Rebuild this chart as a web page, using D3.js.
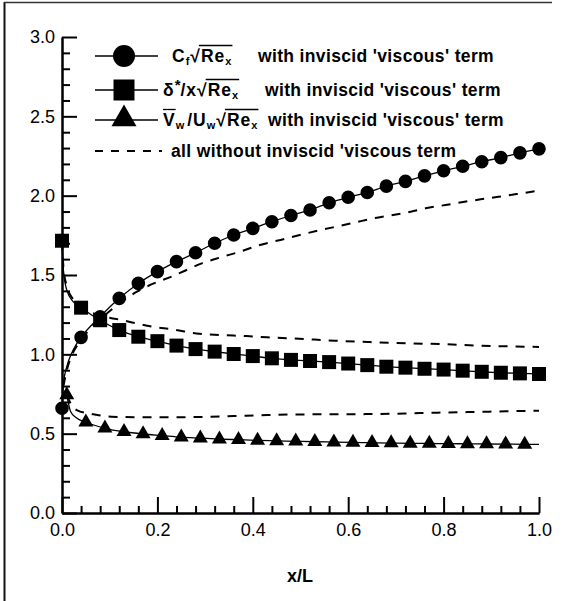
<!DOCTYPE html>
<html>
<head>
<meta charset="utf-8">
<script src="https://cdn.jsdelivr.net/npm/d3@7"></script>
<style>
  body { margin: 0; background: #fff; }
  svg { display: block; }
  text { font-family: "Liberation Sans", Arial, sans-serif; fill: #000; }
</style>
</head>
<body>
<svg width="570" height="601"></svg>
<script>
const MARGIN = { TOP: 37, BOTTOM: 88, LEFT: 62, RIGHT: 31 };
const W = 570, H = 601;
const width = W - MARGIN.LEFT - MARGIN.RIGHT;
const height = H - MARGIN.TOP - MARGIN.BOTTOM;

// Cf*sqrt(Re_x), with inviscid 'viscous' term (circles)
const cfX = [0, 0.04, 0.08, 0.12, 0.16, 0.20, 0.24, 0.28, 0.32, 0.36, 0.40, 0.44, 0.48,
             0.52, 0.56, 0.60, 0.64, 0.68, 0.72, 0.76, 0.80, 0.84, 0.88, 0.92, 0.96, 1.00];
const cfY = [0.66, 1.107, 1.237, 1.353, 1.447, 1.521, 1.584, 1.64, 1.70, 1.752, 1.794, 1.836, 1.875,
             1.91, 1.955, 1.99, 2.02, 2.06, 2.09, 2.125, 2.157, 2.185, 2.214, 2.24, 2.27, 2.295];
// extra points of the curve near the leading edge
const cfNearX = [0.003, 0.01, 0.02, 0.029];
const cfNearY = [0.817, 0.922, 1.006, 1.058];

// delta*/x*sqrt(Re_x) (squares)
const dsX = cfX;
const dsY = [1.716, 1.294, 1.215, 1.153, 1.111, 1.083, 1.055, 1.033, 1.017, 1.002, 0.989, 0.975, 0.965,
             0.958, 0.951, 0.942, 0.932, 0.922, 0.916, 0.909, 0.904, 0.897, 0.89, 0.884, 0.88, 0.876];
const dsNearX = [0.003, 0.01, 0.024];
const dsNearY = [1.53, 1.405, 1.33];

// Vw/Uw*sqrt(Re_x) (triangles)
const vwX = [0.01, 0.05, 0.09, 0.13, 0.17, 0.21, 0.25, 0.29, 0.33, 0.37, 0.41, 0.45, 0.49,
             0.53, 0.57, 0.61, 0.65, 0.69, 0.73, 0.77, 0.81, 0.85, 0.89, 0.93, 0.97];
const vwY = [0.744, 0.572, 0.534, 0.512, 0.498, 0.488, 0.478, 0.472, 0.466, 0.462, 0.458, 0.455, 0.452,
             0.449, 0.447, 0.445, 0.443, 0.441, 0.439, 0.438, 0.437, 0.436, 0.435, 0.434, 0.433];
const vwNearX = [0.018, 0.03, 1.0];
const vwNearY = [0.64, 0.60, 0.432];

// all without inviscid 'viscous' term (dashed)
const cfDashX = [0.003, 0.01, 0.02, 0.04, 0.08, 0.12, 0.157, 0.195, 0.23, 0.26, 0.293, 0.331, 0.373, 0.408,
                 0.467, 0.509, 0.544, 0.583, 0.621, 0.66, 0.694, 0.731, 0.768, 0.804, 0.841, 0.878, 0.915, 0.953, 1.0];
const cfDashY = [0.80, 0.90, 0.99, 1.09, 1.22, 1.32, 1.395, 1.45, 1.49, 1.53, 1.573, 1.61, 1.647, 1.683,
                 1.728, 1.76, 1.785, 1.81, 1.836, 1.861, 1.878, 1.899, 1.924, 1.941, 1.96, 1.977, 1.993, 2.01, 2.032];
const dsDashX = [0, 0.003, 0.01, 0.024, 0.04, 0.08, 0.125, 0.19, 0.233, 0.282, 0.331, 0.387, 0.43, 0.485,
                 0.572, 0.646, 0.722, 0.80, 0.876, 0.94, 1.0];
const dsDashY = [1.716, 1.55, 1.43, 1.345, 1.30, 1.245, 1.216, 1.174, 1.157, 1.132, 1.122, 1.115, 1.107, 1.10,
                 1.086, 1.077, 1.069, 1.064, 1.055, 1.05, 1.047];
const vwDashX = [0.01, 0.02, 0.031, 0.066, 0.104, 0.15, 0.22, 0.30, 0.36, 0.43, 0.485, 0.55, 0.667, 0.75, 0.85, 0.93, 1.0];
const vwDashY = [0.744, 0.68, 0.649, 0.622, 0.607, 0.604, 0.603, 0.606, 0.611, 0.617, 0.621, 0.622, 0.624, 0.63, 0.636, 0.641, 0.645];

// ticks
const yMajor = [0, 0.5, 1.0, 1.5, 2.0, 2.5, 3.0];
const yMinor = [0.1, 0.2, 0.3, 0.4, 0.6, 0.7, 0.8, 0.9, 1.1, 1.2, 1.3, 1.4, 1.6, 1.7, 1.8, 1.9,
                2.1, 2.2, 2.3, 2.4, 2.6, 2.7, 2.8, 2.9];
const xMajor = [0, 0.2, 0.4, 0.6, 0.8, 1.0];
const xMinor = [0.04, 0.08, 0.12, 0.16, 0.24, 0.28, 0.32, 0.36, 0.44, 0.48, 0.52, 0.56,
                0.64, 0.68, 0.72, 0.76, 0.84, 0.88, 0.92, 0.96];

const svg = d3.select("svg");

// scanned page frame (left and top edge)
svg.append("line").attr("x1", 4.5).attr("x2", 4.5).attr("y1", 2).attr("y2", H)
   .attr("stroke", "#111").attr("stroke-width", 2);
svg.append("line").attr("x1", 4).attr("x2", 552).attr("y1", 2.5).attr("y2", 2.5)
   .attr("stroke", "#333").attr("stroke-width", 1.5);

const g = svg.append("g")
    .attr("transform", "translate(" + MARGIN.LEFT + "," + MARGIN.TOP + ")");

const x = d3.scaleLinear().domain([0, 1]).range([0, width]);
const y = d3.scaleLinear().domain([0, 3]).range([height, 0]);

const fmt = d3.format(".1f");

// axes, ticks pointing into the plot
g.append("g").call(d3.axisLeft(y).tickValues(yMajor).tickFormat(fmt)
    .tickSizeInner(-15).tickSizeOuter(0).tickPadding(7));
g.append("g").call(d3.axisLeft(y).tickValues(yMinor).tickFormat("")
    .tickSizeInner(-8).tickSizeOuter(0));
g.append("g").attr("transform", "translate(0," + height + ")")
    .call(d3.axisBottom(x).tickValues(xMajor).tickFormat(fmt)
    .tickSizeInner(-16).tickSizeOuter(0).tickPadding(10));
g.append("g").attr("transform", "translate(0," + height + ")")
    .call(d3.axisBottom(x).tickValues(xMinor).tickFormat("")
    .tickSizeInner(-7).tickSizeOuter(0));

g.selectAll(".domain, .tick line").attr("stroke", "#000").attr("stroke-width", 2);
g.selectAll(".tick text").style("font-size", "18px").attr("fill", "#000")
  .style("font-family", "'Liberation Sans', Arial, sans-serif");

svg.append("text").attr("x", 300).attr("y", 582).attr("text-anchor", "middle")
   .style("font-size", "18px").style("font-weight", "bold").text("x/L");

// helpers
function pts(xs, ys) { return xs.map((d, i) => [d, ys[i]]); }
function merged(xs, ys, ex, ey) {
  return pts(xs, ys).concat(pts(ex, ey)).sort((a, b) => a[0] - b[0]);
}
const line = d3.line().x(d => x(d[0])).y(d => y(d[1])).curve(d3.curveMonotoneX);

const plot = g.append("g");

// dashed
[[cfDashX, cfDashY], [dsDashX, dsDashY], [vwDashX, vwDashY]].forEach(s => {
  plot.append("path").datum(pts(s[0], s[1])).attr("d", line)
    .attr("fill", "none").attr("stroke", "#000").attr("stroke-width", 2)
    .attr("stroke-dasharray", "9,8");
});

// solid
[[cfX, cfY, cfNearX, cfNearY], [dsX, dsY, dsNearX, dsNearY], [vwX, vwY, vwNearX, vwNearY]]
  .forEach(s => {
    plot.append("path").datum(merged(s[0], s[1], s[2], s[3])).attr("d", line)
      .attr("fill", "none").attr("stroke", "#000").attr("stroke-width", 1.3);
  });

// markers
const sym = {
  circle: d3.symbol().type(d3.symbolCircle).size(Math.PI * 6.8 * 6.8),
  square: d3.symbol().type(d3.symbolSquare).size(14 * 14),
  triangle: d3.symbol().type(d3.symbolTriangle).size(Math.sqrt(3) / 4 * 15 * 15)
};
function markers(xs, ys, s) {
  plot.append("g").selectAll("path").data(pts(xs, ys)).join("path")
    .attr("transform", d => "translate(" + x(d[0]) + "," + y(d[1]) + ")")
    .attr("d", s()).attr("fill", "#000");
}
markers(vwX, vwY, sym.triangle);
markers(dsX, dsY, sym.square);
markers(cfX, cfY, sym.circle);

// legend
const leg = svg.append("g");
const rowY = [56, 90, 120, 151];
const legSym = [
  d3.symbol().type(d3.symbolCircle).size(Math.PI * 11 * 11),
  d3.symbol().type(d3.symbolSquare).size(21 * 21),
  d3.symbol().type(d3.symbolTriangle).size(Math.sqrt(3) / 4 * 25 * 25)
];
rowY.forEach((ry, i) => {
  const ln = leg.append("line").attr("x1", 95).attr("x2", i < 3 ? 158 : 162)
    .attr("y1", ry).attr("y2", ry).attr("stroke", "#000");
  if (i < 3) {
    ln.attr("stroke-width", 1.5);
    leg.append("path").attr("d", legSym[i]())
      .attr("transform", "translate(124," + (i === 2 ? ry - 1 : ry) + ")");
  } else {
    ln.attr("stroke-width", 2).attr("stroke-dasharray", "8,8");
  }
});

// draws a formula from parts, each {t, fs, dy, over, gap}
function formula(x0, base, parts) {
  let cx = x0, overFrom = null, overTo = null;
  parts.forEach(p => {
    const t = leg.append("text").attr("x", cx).attr("y", base + (p.dy || 0))
      .style("font-size", (p.fs || 17.5) + "px").style("font-weight", "bold")
      .style("letter-spacing", (p.fs ? 0 : 1) + "px").text(p.t);
    const w = t.node().getComputedTextLength();
    if (p.over === "v") {
      leg.append("line").attr("x1", cx).attr("x2", cx + w).attr("y1", base - 16.5).attr("y2", base - 16.5)
        .attr("stroke", "#000").attr("stroke-width", 1.3);
    } else if (p.over) {
      if (overFrom === null) overFrom = cx;
      overTo = cx + w;
    }
    cx += w + (p.gap || 0);
  });
  if (overFrom !== null) {
    leg.append("line").attr("x1", overFrom - 2).attr("x2", overTo + 1)
      .attr("y1", base - 16.5).attr("y2", base - 16.5).attr("stroke", "#000").attr("stroke-width", 1.3);
  }
}
const rootParts = [
  { t: "√" },
  { t: "Re", over: true },
  { t: "x", fs: 11, dy: 3, over: true }
];
formula(172, rowY[0] + 6, [{ t: "C" }, { t: "f", fs: 11, dy: 3, gap: 1 }].concat(rootParts));
formula(163, rowY[1] + 6, [{ t: "δ" }, { t: "*", fs: 15, dy: -6 }, { t: "/x" }].concat(rootParts));
formula(163, rowY[2] + 6, [{ t: "V", over: "v" }, { t: "w", fs: 11, dy: 3, gap: 3 }, { t: "/U" },
                           { t: "w", fs: 11, dy: 3, gap: 1 }].concat(rootParts));

const desc = ["with inviscid 'viscous' term", "with inviscid 'viscous' term",
              "with inviscid 'viscous' term", "all without inviscid 'viscous term"];
const descX = [258, 265, 268, 171];
desc.forEach((d, i) => {
  leg.append("text").attr("x", descX[i]).attr("y", rowY[i] + 6)
    .style("font-size", "17.5px").style("font-weight", "bold")
    .style("letter-spacing", "0.35px").text(d);
});
</script>
</body>
</html>
